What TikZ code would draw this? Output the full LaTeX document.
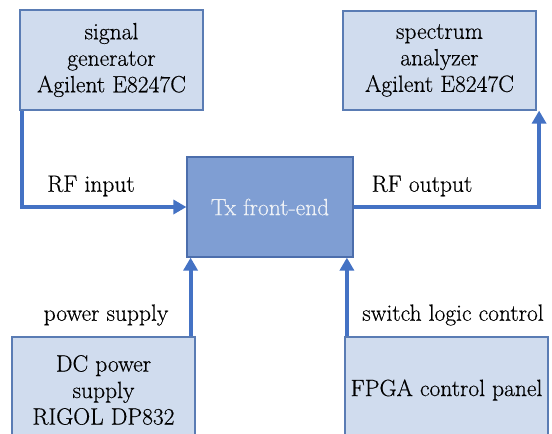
\documentclass[tikz,border=0pt]{standalone}
\usepackage{fontspec}
\setmainfont{Latin Modern Roman}[FakeBold=0.4]
\usetikzlibrary{arrows.meta}
\definecolor{boxfill}{HTML}{D0DCEE}
\definecolor{boxline}{HTML}{5A7CB4}
\definecolor{txfill}{HTML}{7F9ED3}
\definecolor{txline}{HTML}{4C6EAC}
\definecolor{txtext}{HTML}{EEF1F6}
\definecolor{arrowblue}{HTML}{4472C4}
\begin{document}
\begin{tikzpicture}[x=1pt,y=1pt,
  font=\fontsize{23.5}{26.5}\selectfont,
  devbox/.style={draw=boxline,line width=1.2pt,fill=boxfill,rectangle,inner sep=0pt,align=center},
  txbox/.style={draw=txline,line width=1.2pt,fill=txfill,rectangle,inner sep=0pt,align=center,text=txtext},
  flow/.style={draw=arrowblue,line width=4pt,-{Triangle[length=13pt,width=14pt]}},
  lbl/.style={inner sep=0pt,anchor=center}]
\useasboundingbox (0,0) rectangle (552,-434);
\clip (0,0) rectangle (552,-434);
% instrument boxes
\node[devbox,minimum width=183pt,minimum height=100pt] (sg) at (111.5,-60) {signal\\generator\\Agilent E8247C};
\node[devbox,minimum width=193pt,minimum height=99pt] (sa) at (439.5,-60.5) {spectrum\\analyzer\\Agilent E8247C};
\node[txbox,minimum width=166pt,minimum height=100pt] (tx) at (270,-207) {Tx front-end};
\node[devbox,minimum width=183pt,minimum height=106pt] (dc) at (103.5,-390) {DC power\\supply\\RIGOL DP832};
\node[devbox,minimum width=203pt,minimum height=106pt] (fp) at (446.5,-390) {FPGA control panel};
% connection points
\coordinate (inStart) at ([xshift=2.5pt]sg.south west);
\coordinate (outEnd) at ([xshift=2.5pt]sa.south east);
\coordinate (pwrStart) at ([xshift=-5pt]dc.north east);
\coordinate (ctlStart) at ([xshift=2.5pt]fp.north west);
% signal flow
\draw[flow] (inStart) |- (tx.west);
\draw[flow] (tx.east) -| (outEnd);
\draw[flow] (pwrStart) -- (pwrStart |- tx.south);
\draw[flow] (ctlStart) -- (ctlStart |- tx.south);
% labels
\node[lbl] (lin) at (91,-186) {RF input};
\node[lbl] (lout) at (422,-186) {RF output};
\node[lbl] (lpwr) at (106,-315) {power supply};
\node[lbl] (lctl) at (453,-315) {switch logic control};
\end{tikzpicture}
\end{document}
